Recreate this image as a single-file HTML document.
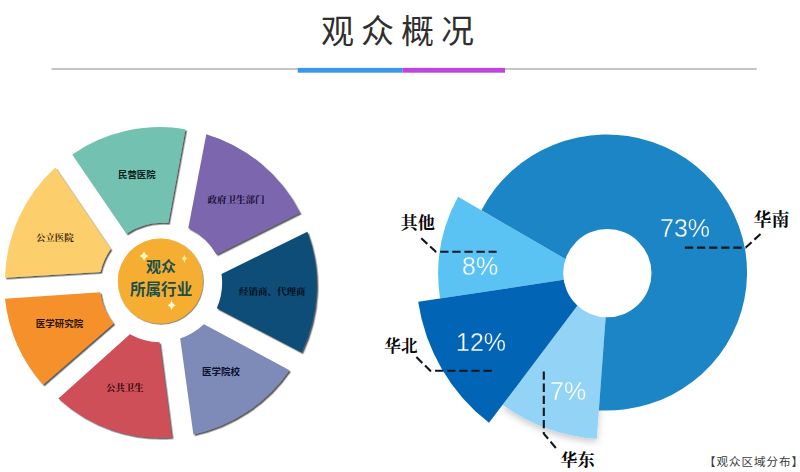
<!DOCTYPE html>
<html lang="zh"><head><meta charset="utf-8"><title>观众概况</title>
<style>html,body{margin:0;padding:0;background:#fff}body{width:800px;height:472px;overflow:hidden;position:relative;font-family:"Liberation Sans",sans-serif}svg{position:absolute;left:0;top:0;display:block}.pct{position:absolute;will-change:transform;color:#fff;font-family:"Liberation Sans",sans-serif;line-height:1;white-space:nowrap;margin:0}</style>
</head><body>
<svg width="800" height="472" viewBox="0 0 800 472">
<defs><filter id="sh" x="-10%" y="-10%" width="125%" height="125%"><feDropShadow dx="1.45" dy="1.55" stdDeviation="0.4" flood-color="#1a1a1a" flood-opacity="0.72"/></filter>
<filter id="sh2" x="-10%" y="-10%" width="125%" height="125%"><feDropShadow dx="0.6" dy="0.7" stdDeviation="0.4" flood-color="#3a2a10" flood-opacity="0.8"/></filter><filter id="soft" x="-20%" y="-20%" width="140%" height="150%"><feDropShadow dx="0" dy="3" stdDeviation="3.5" flood-color="#000" flood-opacity="0.22"/></filter></defs>
<rect width="800" height="472" fill="#fff"/>
<rect x="51.5" y="68" width="705.3" height="2" fill="#c6c6c6"/>
<rect x="297.7" y="67.9" width="104.8" height="4.8" fill="#3b95ea"/>
<rect x="402.5" y="67.9" width="102.5" height="4.8" fill="#bf45e0"/>
<text x="321" y="42.5" font-family="'Liberation Sans','Noto Sans CJK SC',sans-serif" font-size="33" letter-spacing="7" fill="#2f2f2f">观众概况</text>
<g filter="url(#sh)">
<path fill="#73c1b0" d="M72.3 154.4A155.5 155.5 0 0 1 185.5 129.2L168.3 223.1A63 63 0 0 0 126.5 233.7Z"/>
<path fill="#7b66ae" d="M206.3 134.2A155.5 155.5 0 0 1 300 212.7L216.4 254.4A63 63 0 0 0 188.3 228Z"/>
<path fill="#094e77" d="M307.4 231.8A155.5 155.5 0 0 1 301.6 352.4L216.8 308.2A63 63 0 0 0 221.5 273.9Z"/>
<path fill="#7e8ab8" d="M289.4 370.2A155.5 155.5 0 0 1 193.4 434.4L180.2 338.6A68 68 0 0 0 203.9 324.3Z"/>
<path fill="#cf4f59" d="M171.9 437.2A150 150 0 0 1 58.4 398.5L129.9 334.2A66 66 0 0 0 159.6 342.3Z"/>
<path fill="#f5902b" d="M43 384.7A155.5 155.5 0 0 1 5 298.7L100.3 292.3A63 63 0 0 0 113.6 323.5Z"/>
<path fill="#fdcf6c" d="M4.9 277.7A155.5 155.5 0 0 1 55.3 167.4L110.7 248.9A63 63 0 0 0 100.5 272.1Z"/>
</g>
<text x="118" y="177.8" font-family="'Liberation Sans','Noto Sans CJK SC',sans-serif" font-size="9.4" font-weight="bold" fill="#07201c">民营医院</text>
<text x="207.5" y="202.8" font-family="'Liberation Serif','Noto Serif CJK SC',serif" font-size="9.5" font-weight="bold" fill="#150b2e">政府卫生部门</text>
<text x="239" y="295" font-family="'Liberation Serif','Noto Serif CJK SC',serif" font-size="9.5" font-weight="bold" fill="#030c18">经销商、代理商</text>
<text x="202" y="374.8" font-family="'Liberation Sans','Noto Sans CJK SC',sans-serif" font-size="9.5" font-weight="bold" fill="#0d1030">医学院校</text>
<text x="106" y="391.2" font-family="'Liberation Serif','Noto Serif CJK SC',serif" font-size="9.4" font-weight="bold" fill="#2a0608">公共卫生</text>
<text x="35.8" y="327.3" font-family="'Liberation Sans','Noto Sans CJK SC',sans-serif" font-size="9.5" font-weight="bold" fill="#2b1403">医学研究院</text>
<text x="36" y="240.9" font-family="'Liberation Serif','Noto Serif CJK SC',serif" font-size="9.4" font-weight="bold" fill="#331a06">公立医院</text>
<circle cx="160.4" cy="281.1" r="42.6" fill="#f5ae33" filter="url(#sh2)"/>
<path fill="#fff8c4" d="M144 251Q145.03 254.9 148.7 256Q145.03 257.1 144 261Q142.97 257.1 139.3 256Q142.97 254.9 144 251Z"/>
<path fill="#ffee9e" d="M184.4 254.3Q184.99 257.65 187.1 258.6Q184.99 259.55 184.4 262.9Q183.81 259.55 181.7 258.6Q183.81 257.65 184.4 254.3Z"/>
<path fill="#fffad0" d="M171.6 299.9Q172.52 304.03 175.8 305.2Q172.52 306.37 171.6 310.5Q170.68 306.37 167.4 305.2Q170.68 304.03 171.6 299.9Z"/>
<text x="161.1" y="271.5" text-anchor="middle" font-family="'Liberation Sans','Noto Sans CJK SC',sans-serif" font-size="15" font-weight="bold" fill="#1b4f49">观众</text>
<text x="161.1" y="295.4" text-anchor="middle" font-family="'Liberation Sans','Noto Sans CJK SC',sans-serif" font-size="15.6" font-weight="bold" fill="#1b4f49">所属行业</text>
<path fill="#92d3f6" filter="url(#soft)" d="M609.67 262.93L596.75 438.81A180.4 180.4 0 0 1 502.6 404.78Z"/>
<path fill="#5bc2f4" d="M593.39 275.29L440.05 298.48A160.6 160.6 0 0 1 458.11 196.75Z"/>
<path fill="#1c85c6" d="M608.13 283.84L481.43 210.29A140.35 138.05 0 1 1 598.84 410.38Z"/>
<path fill="#0264b5" d="M601.23 274.1L489 422.8A188.5 188.5 0 0 1 418.17 301.79Z"/>
<circle cx="607.35" cy="273.15" r="44.15" fill="#fff"/>
<path d="M421.25 238.25L435.9 251.75H496.6" fill="none" stroke="#10161e" stroke-width="2.1" stroke-linejoin="round" stroke-dasharray="8.3 3.8"/>
<path d="M760.5 234L745.7 247.6H684.6" fill="none" stroke="#10161e" stroke-width="2.1" stroke-linejoin="round" stroke-dasharray="8.3 3.8"/>
<path d="M416.4 357.1L430.3 370.7H492.5" fill="none" stroke="#10161e" stroke-width="2.1" stroke-linejoin="round" stroke-dasharray="8.3 3.8"/>
<path d="M543.8 371.5V433.6L557.5 450" fill="none" stroke="#10161e" stroke-width="2.1" stroke-linejoin="round" stroke-dasharray="8.3 3.8"/>
<text x="400.5" y="228.5" font-family="'Liberation Serif','Noto Serif CJK SC',serif" font-size="17.2" font-weight="bold" fill="#0a0a0a">其他</text>
<text x="753.5" y="226" font-family="'Liberation Serif','Noto Serif CJK SC',serif" font-size="17.9" font-weight="bold" fill="#0a0a0a">华南</text>
<text x="384.3" y="351.8" font-family="'Liberation Serif','Noto Serif CJK SC',serif" font-size="16.6" font-weight="bold" fill="#0a0a0a">华北</text>
<text x="560.2" y="466.4" font-family="'Liberation Serif','Noto Serif CJK SC',serif" font-size="17.2" font-weight="bold" fill="#0a0a0a">华东</text>
<text x="704" y="466" font-family="'Liberation Sans','Noto Sans CJK SC',sans-serif" font-size="11.5" letter-spacing="1" fill="#3a3a3a">【观众区域分布】</text>
</svg>
<div class="pct" style="left:660.3px;top:216.1px;font-size:25px;-webkit-text-stroke:0.3px #1c85c6">73%</div>
<div class="pct" style="left:461.9px;top:253.5px;font-size:25px;-webkit-text-stroke:0.3px #5bc2f4">8%</div>
<div class="pct" style="left:456.2px;top:330.2px;font-size:25px;-webkit-text-stroke:0.3px #0264b5">12%</div>
<div class="pct" style="left:549.5px;top:379.2px;font-size:25px;-webkit-text-stroke:0.3px #92d3f6">7%</div>
</body></html>
